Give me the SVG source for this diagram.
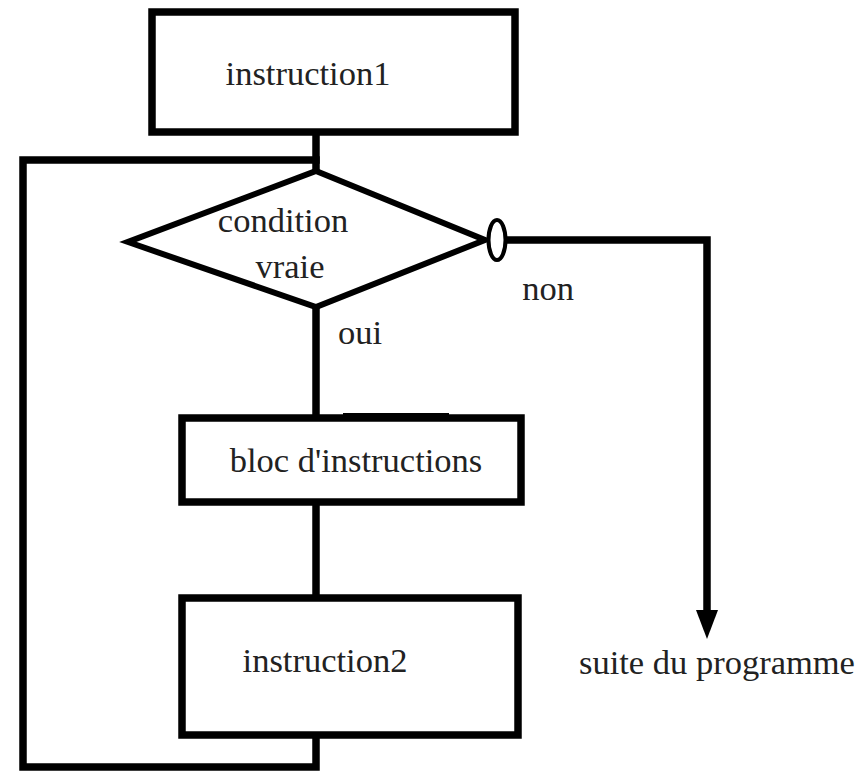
<svg xmlns="http://www.w3.org/2000/svg" width="863" height="776" viewBox="0 0 863 776">
<style>
.box{fill:#fff;stroke:#000;stroke-width:7.5}
.ln{fill:none;stroke:#000;stroke-width:7.5;stroke-linecap:square}
.t{font-family:"Liberation Serif",serif;font-size:34.5px;fill:#222}
</style>
<rect width="863" height="776" fill="#fff"/>
<g id="connectors">
<path class="ln" d="M316 136 V170"/>
<path class="ln" d="M316 160 H23 V767 H316 V737"/>
<path class="ln" d="M316 307 V418"/>
<path class="ln" d="M316 502 V597"/>
<path class="ln" d="M507 240 H707 V612"/>
<polygon points="696,610 718,610 707,639" fill="#000"/>
<rect x="343" y="413" width="106" height="7" fill="#000"/>
</g>
<g id="instruction1">
<rect class="box" x="152" y="12" width="363" height="120"/>
<text class="t" x="308" y="85" text-anchor="middle">instruction1</text>
</g>
<g id="condition">
<polygon points="316,171 485,240 316,307 128,242" fill="#fff" stroke="#000" stroke-width="6" stroke-linejoin="miter"/>
<ellipse cx="497" cy="240" rx="8.5" ry="20" fill="#fff" stroke="#000" stroke-width="4"/>
<text class="t" x="283" y="232" text-anchor="middle">condition</text>
<text class="t" x="290" y="278" text-anchor="middle">vraie</text>
</g>
<g id="labels">
<text class="t" x="548" y="300" text-anchor="middle">non</text>
<text class="t" x="360" y="344" text-anchor="middle">oui</text>
<text class="t" x="579" y="674">suite du programme</text>
</g>
<g id="bloc">
<rect class="box" x="182" y="418" width="339" height="84"/>
<text class="t" x="356" y="472" text-anchor="middle">bloc d'instructions</text>
</g>
<g id="instruction2">
<rect class="box" x="182" y="598" width="336" height="137"/>
<text class="t" x="325" y="672" text-anchor="middle">instruction2</text>
</g>
</svg>
